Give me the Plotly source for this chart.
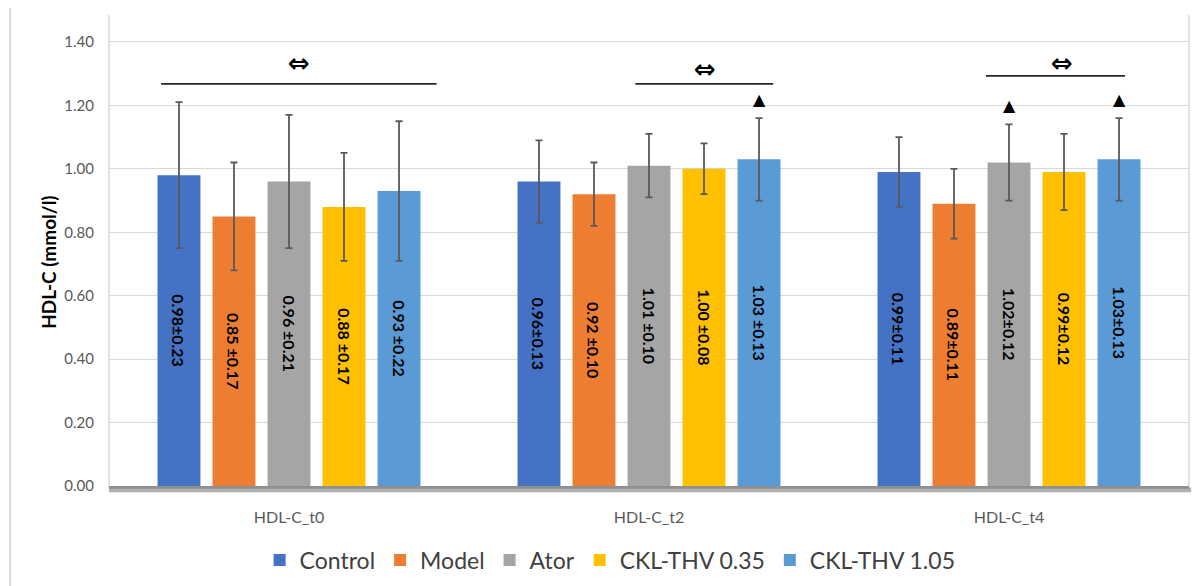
import plotly.graph_objects as go

# Time points and treatment groups
categories = ["HDL-C_t0", "HDL-C_t2", "HDL-C_t4"]
groups = ["Control", "Model", "Ator", "CKL-THV 0.35", "CKL-THV 1.05"]

# Mean and SD (mmol/l) per group, in category order
control_mean = [0.98, 0.96, 0.99]
control_sd = [0.23, 0.13, 0.11]
model_mean = [0.85, 0.92, 0.89]
model_sd = [0.17, 0.10, 0.11]
ator_mean = [0.96, 1.01, 1.02]
ator_sd = [0.21, 0.10, 0.12]
ckl035_mean = [0.88, 1.00, 0.99]
ckl035_sd = [0.17, 0.08, 0.12]
ckl105_mean = [0.93, 1.03, 1.03]
ckl105_sd = [0.22, 0.13, 0.13]

# In-bar labels as printed
control_labels = ["0.98±0.23", "0.96±0.13", "0.99±0.11"]
model_labels = ["0.85 ±0.17", "0.92 ±0.10", "0.89±0.11"]
ator_labels = ["0.96 ±0.21", "1.01 ±0.10", "1.02±0.12"]
ckl035_labels = ["0.88 ±0.17", "1.00 ±0.08", "0.99±0.12"]
ckl105_labels = ["0.93 ±0.22", "1.03 ±0.13", "1.03±0.13"]

means = [control_mean, model_mean, ator_mean, ckl035_mean, ckl105_mean]
sds = [control_sd, model_sd, ator_sd, ckl035_sd, ckl105_sd]
labels = [control_labels, model_labels, ator_labels, ckl035_labels, ckl105_labels]
colors = ["#4472C4", "#ED7D31", "#A5A5A5", "#FFC000", "#5B9BD5"]

# Significance markers: (category index, group index)
triangle_marks = [(1, 4), (2, 2), (2, 4)]
# Comparison brackets: (x start, x end, line y, symbol x, symbol y)
brackets = [
    (-0.355, 0.41, 1.268, 0.028, 1.334),
    (0.962, 1.345, 1.268, 1.155, 1.315),
    (1.936, 2.322, 1.293, 2.147, 1.334),
]

FONT = "Lato, 'Open Sans', sans-serif"
BARGAP = 0.236
BARGROUPGAP = 0.22

fig = go.Figure()
for name, m, s, lab, c in zip(groups, means, sds, labels, colors):
    fig.add_trace(go.Bar(
        name=name, x=categories, y=m,
        marker=dict(color=c, line=dict(width=0)),
        error_y=dict(type="data", array=s, visible=True,
                     color="#595959", thickness=1.8, width=3.5),
        text=[f"<b>{t}</b>" for t in lab], textposition="inside",
        insidetextanchor="middle", textangle=90, constraintext="none",
        textfont=dict(family=FONT, size=16, color="#000000"),
        hoverinfo="skip",
    ))

slot = (1 - BARGAP) / len(groups)
annotations = []
shapes = []
for ci, gi in triangle_marks:
    xpos = ci + (gi - (len(groups) - 1) / 2) * slot
    top = means[gi][ci] + sds[gi][ci]
    annotations.append(dict(x=xpos, y=top, xref="x", yref="y", text="▲",
                            showarrow=False, yshift=19,
                            font=dict(size=16, color="#000000", family="DejaVu Sans")))

for x0, x1, ly, sx, sy in brackets:
    shapes.append(dict(type="line", xref="x", yref="y", x0=x0, x1=x1, y0=ly, y1=ly,
                       line=dict(color="#262626", width=1.8)))
    annotations.append(dict(x=sx, y=sy, xref="x", yref="y", text="<b>⇔</b>",
                            showarrow=False,
                            font=dict(size=26, color="#000000", family="DejaVu Sans")))

# Y-axis title
annotations.append(dict(x=-0.056, y=0.475, xref="paper", yref="paper",
                        xanchor="center", yanchor="middle",
                        text="<b>HDL-C (mmol/l)</b>", textangle=-90, showarrow=False,
                        font=dict(family=FONT, size=19, color="#000000")))

# Plot-area side borders, base shadow and outer frame edge
shapes += [
    dict(type="line", xref="paper", yref="paper", x0=0, x1=0, y0=0, y1=1,
         line=dict(color="#d9d9d9", width=1.5)),
    dict(type="line", xref="paper", yref="paper", x0=1, x1=1, y0=0, y1=1,
         line=dict(color="#d9d9d9", width=1.5)),
    dict(type="rect", xref="paper", yref="paper", x0=0, x1=1.002, y0=-0.0135, y1=-0.003,
         fillcolor="#b0b0b0", line=dict(width=0), layer="above"),
    dict(type="rect", xref="paper", yref="paper", x0=0, x1=1.0, y0=-0.006, y1=0.0,
         fillcolor="#8f8f8f", line=dict(width=0), layer="above"),
    dict(type="line", xref="paper", yref="paper", x0=-0.0917, x1=-0.0917,
         y0=-0.22, y1=1.015, line=dict(color="#d9d9d9", width=2)),
]

fig.update_layout(
    width=1204, height=586,
    margin=dict(l=109, r=15, t=15, b=100, autoexpand=False),
    paper_bgcolor="white", plot_bgcolor="white",
    barmode="group", bargap=BARGAP, bargroupgap=BARGROUPGAP,
    uniformtext=dict(minsize=16, mode="show"),
    font=dict(family=FONT, color="#595959"),
    showlegend=True,
    legend=dict(orientation="h", x=0.464, xanchor="center", y=-0.157, yanchor="middle",
                font=dict(family=FONT, size=23, color="#404040"),
                itemwidth=30, traceorder="normal"),
    xaxis=dict(showgrid=False, showline=False, ticks="",
               tickfont=dict(family=FONT, size=16, color="#595959"),
               ticklabelstandoff=20),
    yaxis=dict(range=[0, 1.485], tickvals=[0, 0.2, 0.4, 0.6, 0.8, 1.0, 1.2, 1.4],
               tickformat=".2f", showgrid=True, gridcolor="#d9d9d9", gridwidth=1,
               zeroline=False, showline=False, ticks="",
               tickfont=dict(family=FONT, size=15, color="#595959"),
               ticklabelstandoff=14),
    shapes=shapes,
    annotations=annotations,
)

fig.write_html("out.html")
